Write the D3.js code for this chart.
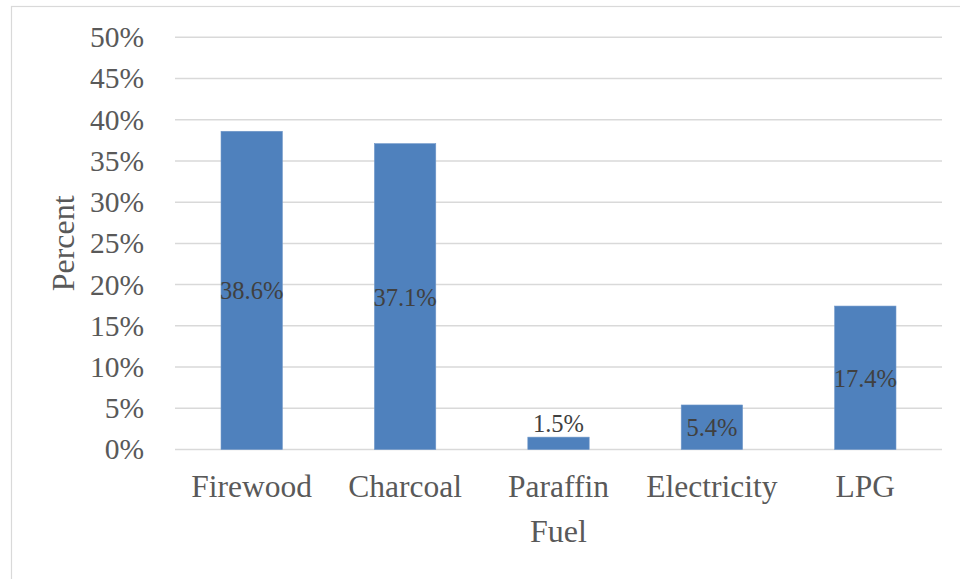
<!DOCTYPE html>
<html>
<head>
<meta charset="utf-8">
<script src="https://cdn.jsdelivr.net/npm/d3@7"></script>
<style>
  html, body { margin: 0; padding: 0; background: #fff; }
  svg { display: block; }
</style>
</head>
<body>
<svg id="chart" width="960" height="579"></svg>
<script>
// Household cooking fuel shares
const categories = ["Firewood", "Charcoal", "Paraffin", "Electricity", "LPG"];
const values = [38.6, 37.1, 1.5, 5.4, 17.4];
const tickValues = [0, 5, 10, 15, 20, 25, 30, 35, 40, 45, 50];
const xTitle = "Fuel";
const yTitle = "Percent";

const W = 960, H = 579;
const margin = { left: 175, right: 18, top: 37.3, bottom: 129.5 };
const font = "'Liberation Serif', 'Times New Roman', serif";

const svg = d3.select("#chart");

// chart area frame
svg.append("rect")
  .attr("x", 11.5).attr("y", 6.5)
  .attr("width", W + 10).attr("height", H + 10)
  .attr("fill", "none").attr("stroke", "#d9d9d9").attr("stroke-width", 1.2);

const x = d3.scaleBand()
  .domain(categories)
  .range([margin.left, W - margin.right])
  .paddingInner(0.6)
  .paddingOuter(0.3);

const y = d3.scaleLinear()
  .domain([0, 50])
  .range([H - margin.bottom, margin.top]);

// horizontal gridlines
svg.append("g")
  .selectAll("line")
  .data(tickValues)
  .join("line")
  .attr("x1", margin.left).attr("x2", W - margin.right)
  .attr("y1", d => y(d)).attr("y2", d => y(d))
  .attr("stroke", "#d9d9d9").attr("stroke-width", 1.5);

// y axis labels
const yAxis = d3.axisLeft(y)
  .tickValues(tickValues)
  .tickFormat(d => d + "%")
  .tickSize(0)
  .tickPadding(31);
svg.append("g")
  .attr("transform", `translate(${margin.left},0)`)
  .call(yAxis)
  .call(g => g.select(".domain").remove())
  .call(g => g.selectAll("text")
    .attr("font-family", font).attr("font-size", 29.5)
    .attr("fill", "#595959"));

// x axis labels
const xAxis = d3.axisBottom(x).tickSize(0);
svg.append("g")
  .attr("transform", `translate(0,${y(0)})`)
  .call(xAxis)
  .call(g => g.select(".domain").remove())
  .call(g => g.selectAll("text")
    .attr("y", 47.5).attr("dy", null)
    .attr("font-family", font).attr("font-size", 31.5)
    .attr("fill", "#595959"));

// bars
svg.append("g")
  .selectAll("rect")
  .data(values)
  .join("rect")
  .attr("x", (d, i) => x(categories[i]))
  .attr("y", d => y(d))
  .attr("width", x.bandwidth())
  .attr("height", d => y(0) - y(d))
  .attr("fill", "#4f81bd")
  .attr("stroke", "#6f97c9").attr("stroke-width", 0.6);

// value labels: centred in the bar, or just above it when the bar is too short
svg.append("g")
  .selectAll("text")
  .data(values)
  .join("text")
  .attr("x", (d, i) => x(categories[i]) + x.bandwidth() / 2)
  .attr("y", d => {
    const h = y(0) - y(d);
    return h < 20 ? y(d) - 5 : y(d) + h / 2 + 9;
  })
  .attr("text-anchor", "middle")
  .attr("font-family", font).attr("font-size", 24.5)
  .attr("fill", "#404040")
  .text(d => d.toFixed(1) + "%");

// axis titles
svg.append("text")
  .attr("x", (margin.left + W - margin.right) / 2)
  .attr("y", 541.7)
  .attr("text-anchor", "middle")
  .attr("font-family", font).attr("font-size", 32)
  .attr("fill", "#595959")
  .text(xTitle);

svg.append("text")
  .attr("transform", `translate(73.5,${(y(0) + y(50)) / 2}) rotate(-90)`)
  .attr("text-anchor", "middle")
  .attr("font-family", font).attr("font-size", 32)
  .attr("fill", "#595959")
  .text(yTitle);
</script>
</body>
</html>
